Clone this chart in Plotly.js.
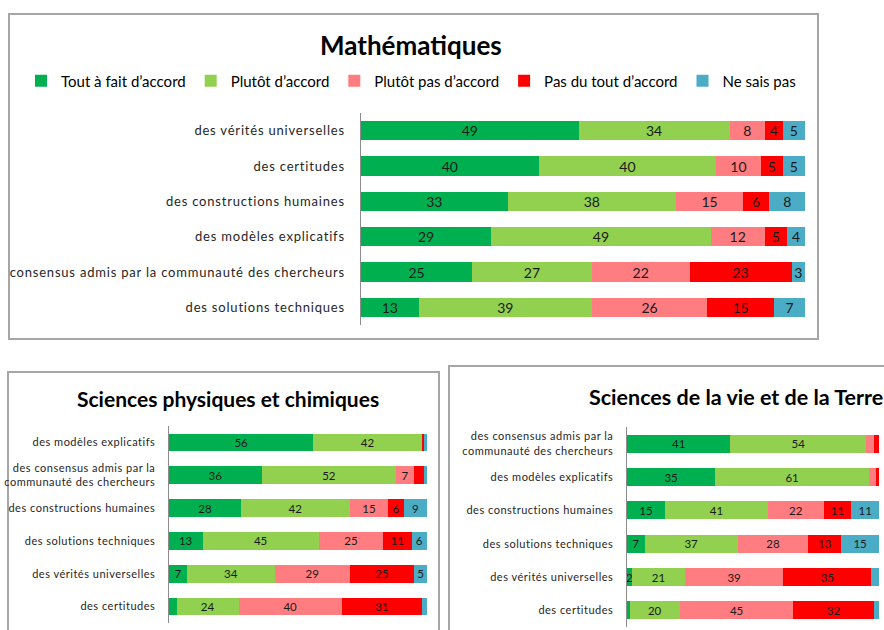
<!DOCTYPE html>
<html>
<head>
<meta charset="utf-8">
<script src="https://cdn.plot.ly/plotly-3.0.1.min.js"></script>
<style>
  html, body { margin: 0; padding: 0; background: #fff; overflow: hidden; }
  #chart { width: 884px; height: 630px; }
  .subplot.xy .yaxislayer-above text { letter-spacing: 0.8px; }
  .subplot.x2y2 .yaxislayer-above text, .subplot.x3y3 .yaxislayer-above text { letter-spacing: 0.5px; }
</style>
</head>
<body>
<div id="chart"></div>
<script>
// ---------- DATA ----------
const seriesNames = ["Tout à fait d’accord", "Plutôt d’accord", "Plutôt pas d’accord", "Pas du tout d’accord", "Ne sais pas"];
const seriesColors = ["#00B050", "#92D050", "#FF7C80", "#FF0000", "#4BACC6"];

const panelTitles = ["Mathématiques", "Sciences physiques et chimiques", "Sciences de la vie et de la Terre"];

// Mathématiques
const mathCategories = ["des vérités universelles", "des certitudes", "des constructions humaines",
  "des modèles explicatifs", "consensus admis par la communauté des chercheurs", "des solutions techniques"];
const mathTout = [49, 40, 33, 29, 25, 13];
const mathPlutot = [34, 40, 38, 49, 27, 39];
const mathPlutotPas = [8, 10, 15, 12, 22, 26];
const mathPasDuTout = [4, 5, 6, 5, 23, 15];
const mathNeSaisPas = [5, 5, 8, 4, 3, 7];
const mathUnlabeled = [[], [], [], [], []];

// Sciences physiques et chimiques
const spcCategories = ["des modèles explicatifs", "des consensus admis par la<br>communauté des chercheurs",
  "des constructions humaines", "des solutions techniques", "des vérités universelles", "des certitudes"];
const spcTout = [56, 36, 28, 13, 7, 3];
const spcPlutot = [42, 52, 42, 45, 34, 24];
const spcPlutotPas = [0, 7, 15, 25, 29, 40];
const spcPasDuTout = [1, 4, 6, 11, 25, 31];
const spcNeSaisPas = [1, 1, 9, 6, 5, 2];
const spcUnlabeled = [[5], [], [0], [0, 1], [0, 1, 5]];

// Sciences de la vie et de la Terre
const svtCategories = ["des consensus admis par la<br>communauté des chercheurs", "des modèles explicatifs",
  "des constructions humaines", "des solutions techniques", "des vérités universelles", "des certitudes"];
const svtTout = [41, 35, 15, 7, 2, 1];
const svtPlutot = [54, 61, 41, 37, 21, 20];
const svtPlutotPas = [3, 3, 22, 28, 39, 45];
const svtPasDuTout = [2, 1, 11, 13, 35, 32];
const svtNeSaisPas = [0, 0, 11, 15, 3, 2];
const svtUnlabeled = [[5], [], [0, 1], [0, 1], [0, 1, 4, 5]];

// ---------- BUILD ----------
const W = 884, H = 630;
const px = v => v / W;
const py = v => 1 - v / H;

const panels = [
  { cats: mathCategories, series: [mathTout, mathPlutot, mathPlutotPas, mathPasDuTout, mathNeSaisPas],
    unl: mathUnlabeled, xa: 'x', ya: 'y', textSize: 14, legend: true },
  { cats: spcCategories, series: [spcTout, spcPlutot, spcPlutotPas, spcPasDuTout, spcNeSaisPas],
    unl: spcUnlabeled, xa: 'x2', ya: 'y2', textSize: 11.5, legend: false },
  { cats: svtCategories, series: [svtTout, svtPlutot, svtPlutotPas, svtPasDuTout, svtNeSaisPas],
    unl: svtUnlabeled, xa: 'x3', ya: 'y3', textSize: 11.5, legend: false }
];

const traces = [];
panels.forEach(p => {
  p.series.forEach((vals, si) => {
    traces.push({
      type: 'bar', orientation: 'h',
      name: seriesNames[si],
      x: vals, y: p.cats,
      xaxis: p.xa, yaxis: p.ya,
      marker: { color: seriesColors[si], line: { width: 0 } },
      text: vals.map((v, i) => p.unl[si].includes(i) ? '' : String(v)),
      textposition: 'inside', insidetextanchor: 'middle', textangle: 0,
      constraintext: 'none', cliponaxis: false,
      textfont: { size: p.textSize, color: '#1a1a1a', family: 'Lato, sans-serif' },
      showlegend: p.legend, legendgroup: seriesNames[si],
      hoverinfo: 'skip'
    });
  });
});

const yBase = {
  type: 'category', autorange: 'reversed', showline: true, linecolor: '#8c8c8c', linewidth: 1.5,
  ticks: '', showgrid: false, zeroline: false, fixedrange: true
};
const xBase = { range: [0, 100.001], visible: false, fixedrange: true };

const layout = {
  width: W, height: H,
  margin: { l: 0, r: 0, t: 0, b: 0 },
  paper_bgcolor: '#ffffff', plot_bgcolor: 'rgba(0,0,0,0)',
  font: { family: 'Lato, "Liberation Sans", sans-serif', color: '#000' },
  barmode: 'stack', barnorm: 'percent', bargap: 0.46,
  showlegend: true,
  legend: {
    orientation: 'h', x: px(411), xanchor: 'center', y: py(81), yanchor: 'middle',
    traceorder: 'normal', font: { size: 15, color: '#000' }, bgcolor: 'rgba(0,0,0,0)'
  },
  xaxis: Object.assign({}, xBase, { domain: [px(361), px(805)], anchor: 'y' }),
  yaxis: Object.assign({}, yBase, { domain: [py(325), py(113)], anchor: 'x',
    tickfont: { size: 13, color: '#262626' }, ticklabelstandoff: 12 }),
  xaxis2: Object.assign({}, xBase, { domain: [px(169), px(427)], anchor: 'y2' }),
  yaxis2: Object.assign({}, yBase, { domain: [py(623), py(426)], anchor: 'x2',
    tickfont: { size: 11, color: '#262626' }, ticklabelstandoff: 10 }),
  xaxis3: Object.assign({}, xBase, { domain: [px(627), px(879)], anchor: 'y3' }),
  yaxis3: Object.assign({}, yBase, { domain: [py(627), py(427)], anchor: 'x3',
    tickfont: { size: 11, color: '#262626' }, ticklabelstandoff: 10 }),
  shapes: [
    { type: 'rect', xref: 'paper', yref: 'paper', x0: px(9), x1: px(818), y0: py(339), y1: py(14),
      line: { color: '#a6a6a6', width: 2 }, fillcolor: 'rgba(0,0,0,0)', layer: 'below' },
    { type: 'rect', xref: 'paper', yref: 'paper', x0: px(8), x1: px(439), y0: -0.1, y1: py(372),
      line: { color: '#a6a6a6', width: 2 }, fillcolor: 'rgba(0,0,0,0)', layer: 'below' },
    { type: 'rect', xref: 'paper', yref: 'paper', x0: px(449), x1: 1.1, y0: -0.1, y1: py(366),
      line: { color: '#a6a6a6', width: 2 }, fillcolor: 'rgba(0,0,0,0)', layer: 'below' }
  ],
  annotations: [
    { text: panelTitles[0], xref: 'paper', yref: 'paper', x: px(411), y: py(45),
      xanchor: 'center', yanchor: 'middle', showarrow: false,
      font: { size: 26, weight: 'bold', color: '#000' } },
    { text: panelTitles[1], xref: 'paper', yref: 'paper', x: px(228), y: py(398),
      xanchor: 'center', yanchor: 'middle', showarrow: false,
      font: { size: 21, weight: 'bold', color: '#000' } },
    { text: panelTitles[2], xref: 'paper', yref: 'paper', x: px(587), y: py(397),
      xanchor: 'left', yanchor: 'middle', showarrow: false,
      font: { size: 21.5, weight: 'bold', color: '#000' } }
  ]
};

Plotly.newPlot('chart', traces, layout, { staticPlot: true, displayModeBar: false });
</script>
</body>
</html>
